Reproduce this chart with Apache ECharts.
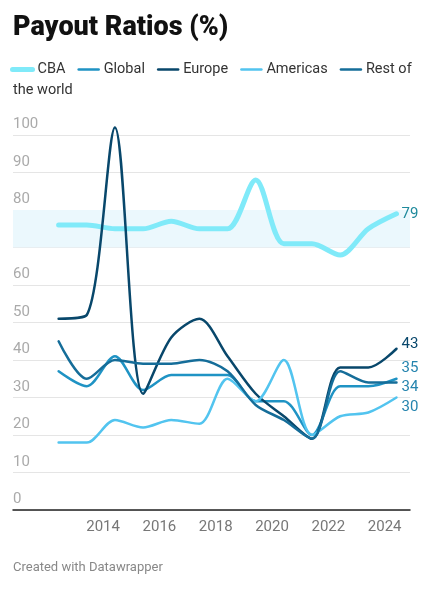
<!DOCTYPE html>
<html>
<head>
<meta charset="utf-8">
<script src="https://cdn.jsdelivr.net/npm/echarts@6/dist/echarts.min.js"></script>
<style>
  html, body { margin: 0; padding: 0; background: #fff; }
  #chart { width: 434px; height: 592px; }
</style>
</head>
<body>
<div id="chart"></div>
<script>
var myChart = echarts.init(document.getElementById('chart'));

// financial years (results at mid-year)
var years = [2012, 2013, 2014, 2015, 2016, 2017, 2018, 2019, 2020, 2021, 2022, 2023, 2024];
var cba      = [76, 76, 75, 75, 77, 75, 75, 88, 71, 71, 68, 75, 79];
var global   = [37, 33, 41, 32, 36, 36, 36, 29, 29, 20, 33, 33, 35];
var europe   = [51, 52, 102, 31, 46, 51, 41, 31, 25, 19, 38, 38, 43];
var americas = [18, 18, 24, 22, 24, 23, 35, 29, 40, 20, 25, 26, 30];
var restOfWorld = [45, 35, 40, 39, 39, 40, 37, 28, 24, 19, 37, 34, 34];
var xTicks = [2014, 2016, 2018, 2020, 2022, 2024];

function pts(vals) {
    return vals.map(function (v, i) { return [years[i] + 0.42, v]; });
}

function lineSeries(name, vals, color, width, labelColor, dy) {
    return {
        name: name,
        type: 'line',
        data: pts(vals),
        symbol: 'none',
        smooth: 0.3,
        clip: false,
        lineStyle: { color: color, width: width, cap: 'round', join: 'round' },
        itemStyle: { color: color },
        endLabel: {
            show: true,
            distance: 5,
            offset: [0, dy],
            color: labelColor,
            fontSize: 15,
            fontFamily: 'Roboto',
            formatter: function (p) { return p.value[1]; }
        },
        emphasis: { disabled: true }
    };
}

var series = [
    lineSeries('CBA', cba, '#80eaf9', 5, '#1f8a9c', 0),
    lineSeries('Global', global, '#1f93c4', 2.5, '#2584ae', -11),
    lineSeries('Europe', europe, '#08476b', 2.5, '#08476b', -5),
    lineSeries('Americas', americas, '#52c4ef', 2.5, '#2584ae', 10),
    lineSeries('Rest of the world', restOfWorld, '#156d99', 2.5, '#2584ae', 5)
];
series[0].markArea = {
    silent: true,
    itemStyle: { color: '#ebf8fd' },
    data: [[{ yAxis: 70 }, { yAxis: 80 }]]
};

var option = {
    animation: false,
    textStyle: { fontFamily: 'Roboto' },
    title: {
        text: 'Payout Ratios (%)',
        left: 13,
        top: 15,
        padding: 0,
        textStyle: { fontSize: 27, fontWeight: 900, color: '#111', fontFamily: 'Roboto' }
    },
    legend: {
        left: 10,
        top: 62,
        padding: 0,
        width: 425,
        itemWidth: 20,
        itemHeight: 14,
        itemGap: 12,
        itemStyle: { opacity: 0 },
        lineStyle: { width: 'inherit' },
        textStyle: { fontSize: 14.5, color: '#333' },
        formatter: function (name) { return name === 'Rest of the world' ? 'Rest of' : name; }
    },
    graphic: [
        {
            type: 'text', left: 13, top: 83,
            style: { text: 'the world', fontSize: 14.5, fill: '#333', fontFamily: 'Roboto' }
        },
        {
            type: 'text', left: 13, top: 561,
            style: { text: 'Created with Datawrapper', fontSize: 13, fill: '#888', fontFamily: 'Roboto' }
        }
    ],
    grid: { left: 13, right: 24, top: 135, bottom: 82, containLabel: false },
    xAxis: {
        type: 'value',
        min: 2010.8,
        max: 2024.9,
        splitLine: { show: false },
        axisTick: { show: false },
        axisLine: { show: true, lineStyle: { color: '#222', width: 1.5 } },
        axisLabel: {
            customValues: xTicks,
            color: '#777',
            fontSize: 15,
            margin: 10,
            formatter: function (v) { return String(v); }
        }
    },
    yAxis: {
        type: 'value',
        min: 0,
        max: 100,
        interval: 10,
        axisLine: { show: false },
        axisTick: { show: false },
        splitLine: { lineStyle: { color: '#e5e5e5', width: 1 } },
        axisLabel: {
            inside: true,
            margin: 0,
            color: '#aaa',
            fontSize: 15,
            verticalAlign: 'bottom',
            padding: [0, 0, 3, 0]
        }
    },
    series: series
};
myChart.setOption(option);
</script>
</body>
</html>
